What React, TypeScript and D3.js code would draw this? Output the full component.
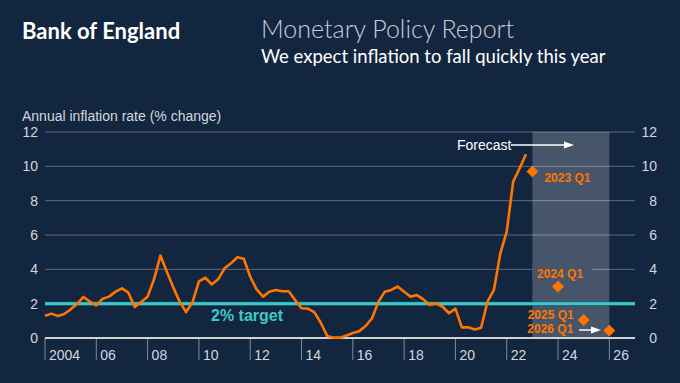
import React from "react";
import * as d3 from "d3";

const startYear = 2004;
const cpi = [
  1.3, 1.42, 1.28, 1.4,
  1.67, 1.98, 2.39, 2.12,
  1.9, 2.29, 2.41, 2.7,
  2.89, 2.64, 1.8, 2.1,
  2.41, 3.42, 4.8, 3.86,
  2.95, 2.12, 1.51, 2.08,
  3.3, 3.51, 3.12, 3.42,
  4.06, 4.35, 4.7, 4.62,
  3.57, 2.83, 2.41, 2.7,
  2.8, 2.72, 2.72, 2.21,
  1.73, 1.71, 1.5, 0.89,
  0.12, 0.02, 0.02, 0.14,
  0.29, 0.4, 0.7, 1.15,
  2.12, 2.7, 2.8, 3.0,
  2.7, 2.41, 2.5, 2.25,
  1.92, 2.02, 1.82, 1.44,
  1.71, 0.62, 0.62, 0.5,
  0.6, 2.12, 2.8, 4.93,
  6.2, 9.1, 9.88, 10.7,
];
const forecastYears = [2023, 2024, 2025, 2026];
const forecastValues = [9.7, 3.0, 1.05, 0.43];
const forecastLabels = ["2023 Q1", "2024 Q1", "2025 Q1", "2026 Q1"];
const xTickYears = [2004, 2006, 2008, 2010, 2012, 2014, 2016, 2018, 2020, 2022, 2024, 2026];
const xTickLabels = ["2004", "06", "08", "10", "12", "14", "16", "18", "20", "22", "24", "26"];
const yTicks = [0, 2, 4, 6, 8, 10, 12];
const target = 2;
const forecastRange = [2023, 2026];

const W = 680;
const H = 383;
const BG = "#132640";
const ORANGE = "#ff7500";
const CYAN = "#3cc9cc";
const TXT = "#d3d7de";

export default function App() {
  const x = d3.scaleLinear().domain([2004, 2027]).range([45, 635]);
  const y = d3.scaleLinear().domain([0, 12]).range([338, 132]);
  const pts: [number, number][] = cpi.map((v, i) => [startYear + i / 4, v]);
  const line = d3
    .line<[number, number]>()
    .x((d) => x(d[0]))
    .y((d) => y(d[1]));
  const diamond = d3.symbol().type(d3.symbolDiamond2).size(90)();
  const labelPos = [
    { dx: 12, dy: 11 },
    { dx: -21, dy: -9 },
    { dx: -56, dy: -0.5 },
    { dx: -82, dy: 2.5 },
  ];
  const arial = "'Liberation Sans', Arial, sans-serif";
  return (
    <svg
      width={W}
      height={H}
      style={{ position: "fixed", left: 0, top: 0, display: "block" }}
    >
      <rect x={0} y={0} width={W} height={H} fill={BG} />
      <text x={22} y={39} fill="#ffffff" fontFamily="Lato, sans-serif" fontWeight={700} fontSize={22}>
        Bank of England
      </text>
      <text x={261} y={38} fill="#c9ced8" fontFamily="Lato, sans-serif" fontWeight={300} fontSize={25}>
        Monetary Policy Report
      </text>
      <text x={261} y={63} fill="#ffffff" fontFamily="Lato, sans-serif" fontWeight={400} fontSize={18.5}>
        We expect inflation to fall quickly this year
      </text>
      <text x={22} y={121} fill={TXT} fontFamily={arial} fontSize={14}>
        Annual inflation rate (% change)
      </text>
      {yTicks.map((t) => (
        <g key={t}>
          {t !== 0 && (
            <line x1={45} x2={635} y1={y(t)} y2={y(t)} stroke="#5d6b80" strokeWidth={1} />
          )}
          <text x={38} y={y(t)} dy="0.35em" textAnchor="end" fill={TXT} fontFamily={arial} fontSize={14}>
            {t}
          </text>
          <text x={657} y={y(t)} dy="0.35em" textAnchor="end" fill={TXT} fontFamily={arial} fontSize={14}>
            {t}
          </text>
        </g>
      ))}
      <rect
        x={x(forecastRange[0])}
        y={y(12)}
        width={x(forecastRange[1]) - x(forecastRange[0])}
        height={y(0) - y(12)}
        fill="#ffffff"
        fillOpacity={0.22}
      />
      <rect x={x(2023)} y={263} width={59} height={17} fill="#45566b" />
      {xTickYears.map((t, i) => (
        <g key={t}>
          <line x1={x(t)} x2={x(t)} y1={338} y2={360} stroke="#7d8a9c" strokeWidth={1} />
          <text x={x(t) + 4} y={360} fill={TXT} fontFamily={arial} fontSize={14}>
            {xTickLabels[i]}
          </text>
        </g>
      ))}
      <line x1={45} x2={635} y1={y(0)} y2={y(0)} stroke="#d0d3d8" strokeWidth={2} />
      <line x1={45} x2={635} y1={y(target)} y2={y(target)} stroke="#1d6e78" strokeWidth={4} />
      <line x1={45} x2={635} y1={y(target)} y2={y(target)} stroke={CYAN} strokeWidth={2.6} />
      <text x={211} y={321} fill={CYAN} fontFamily={arial} fontWeight={700} fontSize={16}>
        2% target
      </text>
      <path d={line(pts) || ""} fill="none" stroke={ORANGE} strokeWidth={2.6} strokeLinejoin="round" />
      {forecastYears.map((yr, i) => (
        <g key={yr}>
          <path d={diamond || ""} transform={`translate(${x(yr)},${y(forecastValues[i])})`} fill={ORANGE} />
          <text
            x={x(yr) + labelPos[i].dx}
            y={y(forecastValues[i]) + labelPos[i].dy}
            fill={ORANGE}
            fontFamily={arial}
            fontWeight={700}
            fontSize={12}
          >
            {forecastLabels[i]}
          </text>
        </g>
      ))}
      <text x={457} y={150} fill="#ffffff" fontFamily={arial} fontSize={14}>
        Forecast
      </text>
      <line x1={511} x2={566} y1={145} y2={145} stroke="#ffffff" strokeWidth={1.5} />
      <path d="M574,145 L564,141.5 L564,148.5 Z" fill="#ffffff" />
      <line x1={579} x2={593} y1={330} y2={330} stroke="#ffffff" strokeWidth={1.5} />
      <path d="M601,330 L591,326.5 L591,333.5 Z" fill="#ffffff" />
    </svg>
  );
}
